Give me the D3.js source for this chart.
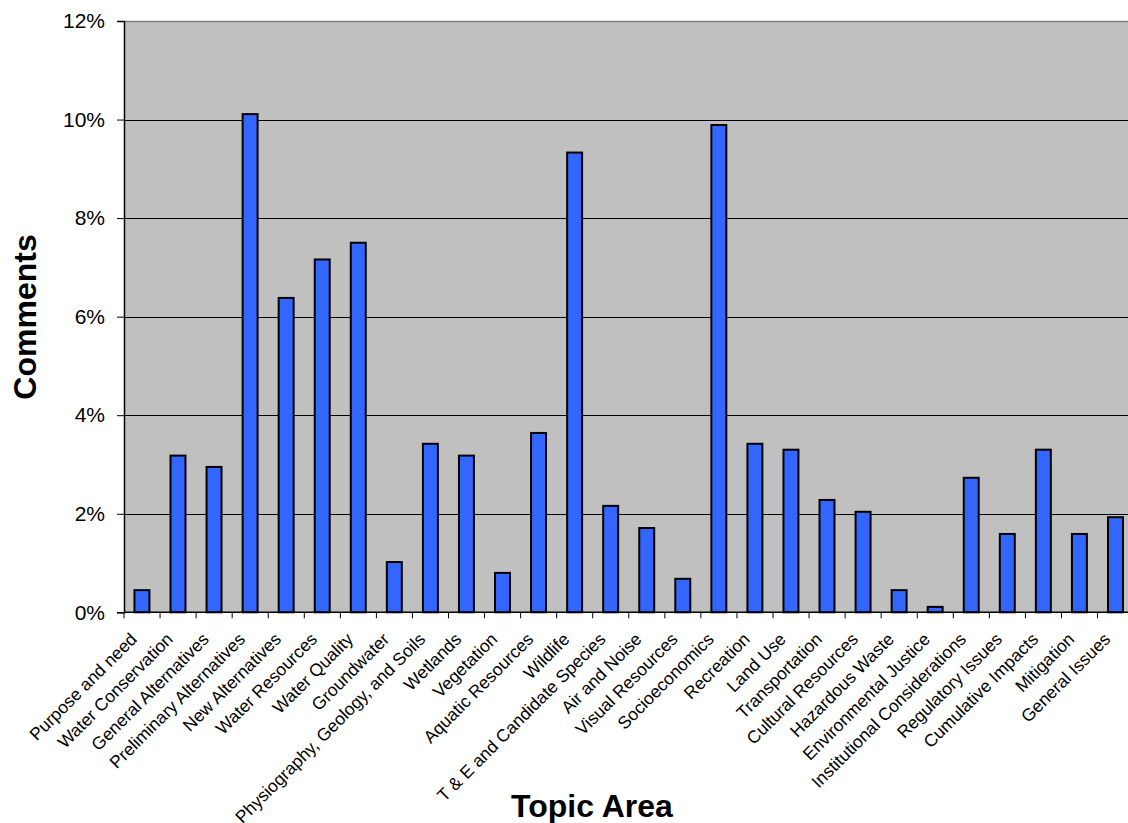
<!DOCTYPE html>
<html>
<head>
<meta charset="utf-8">
<script src="https://cdn.jsdelivr.net/npm/d3@7"></script>
<style>
  body { margin: 0; background: #fff; }
  svg { display: block; font-family: "Liberation Sans", Arial, sans-serif; }
</style>
</head>
<body>
<script>
// topic areas and their share of comments
var topics = [
    "Purpose and need", "Water Conservation", "General Alternatives",
    "Preliminary Alternatives", "New Alternatives", "Water Resources",
    "Water Quality", "Groundwater", "Physiography, Geology, and Soils",
    "Wetlands", "Vegetation", "Aquatic Resources", "Wildlife",
    "T & E and Candidate Species", "Air and Noise", "Visual Resources",
    "Socioeconomics", "Recreation", "Land Use", "Transportation",
    "Cultural Resources", "Hazardous Waste", "Environmental  Justice",
    "Institutional Considerations", "Regulatory Issues", "Cumulative Impacts",
    "Mitigation", "General Issues"
];
var shares = [
    0.0045, 0.0318, 0.0295, 0.1011, 0.0638, 0.0716, 0.0750, 0.0102,
    0.0342, 0.0318, 0.0080, 0.0364, 0.0933, 0.0216, 0.0171, 0.0068,
    0.0989, 0.0342, 0.0330, 0.0228, 0.0204, 0.0045, 0.0011, 0.0273,
    0.0159, 0.0330, 0.0159, 0.0193
];
var yTicks = [0, 0.02, 0.04, 0.06, 0.08, 0.10, 0.12];

var width = 1128,
    height = 823;

var plotLeft = 124, plotTop = 21, plotBottom = 612.3;
var plotW = 28 * 36.05;

var svg = d3.select("body")
    .append("svg")
    .attr("width", width)
    .attr("height", height);

var x = d3.scaleBand()
    .domain(topics)
    .range([plotLeft, plotLeft + plotW])
    .paddingInner(0.585)
    .paddingOuter(0.29);

var y = d3.scaleLinear()
    .domain([0, 0.12])
    .range([plotBottom, plotTop]);

// plot area
svg.append("rect")
    .attr("x", plotLeft)
    .attr("y", plotTop)
    .attr("width", plotW)
    .attr("height", plotBottom - plotTop)
    .attr("fill", "#c0c0c0");

// gridlines
svg.selectAll(".grid")
    .data(yTicks.slice(1, -1))
    .enter()
    .append("line")
    .attr("x1", plotLeft)
    .attr("x2", plotLeft + plotW)
    .attr("y1", function (d) { return Math.round(y(d)) + 0.5; })
    .attr("y2", function (d) { return Math.round(y(d)) + 0.5; })
    .attr("stroke", "#000")
    .attr("stroke-width", 1);

svg.append("line")
    .attr("x1", plotLeft)
    .attr("x2", plotLeft + plotW)
    .attr("y1", plotTop + 0.5)
    .attr("y2", plotTop + 0.5)
    .attr("stroke", "#808080")
    .attr("stroke-width", 1.5);

// bars
svg.selectAll(".bar")
    .data(shares)
    .enter()
    .append("rect")
    .attr("class", "bar")
    .attr("x", function (d, i) { return x(topics[i]); })
    .attr("y", function (d) { return y(d); })
    .attr("width", x.bandwidth())
    .attr("height", function (d) { return plotBottom - y(d); })
    .attr("fill", "#3366ff")
    .attr("stroke", "#000")
    .attr("stroke-width", 2);

// y axis
var yAxis = svg.append("g")
    .attr("transform", "translate(" + plotLeft + ",0)")
    .call(d3.axisLeft(y)
        .tickValues(yTicks)
        .tickFormat(d3.format(".0%"))
        .tickSize(7)
        .tickPadding(12));
yAxis.select(".domain").attr("stroke", "#000").attr("stroke-width", 1.5);
yAxis.selectAll(".tick line").attr("stroke", "#000");
yAxis.selectAll("text")
    .attr("font-size", "21px")
    .attr("fill", "#000")
    .attr("font-family", "Liberation Sans, Arial, sans-serif");

// x axis ticks at band boundaries
var step = x.step();
var edges = d3.range(topics.length + 1);
svg.selectAll(".xtick")
    .data(edges)
    .enter()
    .append("line")
    .attr("x1", function (d) { return plotLeft + d * step; })
    .attr("x2", function (d) { return plotLeft + d * step; })
    .attr("y1", plotBottom)
    .attr("y2", plotBottom + 6)
    .attr("stroke", "#000");

svg.append("line")
    .attr("x1", plotLeft)
    .attr("x2", plotLeft + plotW)
    .attr("y1", plotBottom)
    .attr("y2", plotBottom)
    .attr("stroke", "#000")
    .attr("stroke-width", 1.5);

// rotated category labels
svg.selectAll(".xlabel")
    .data(topics)
    .enter()
    .append("text")
    .attr("transform", function (d) {
        var cx = x(d) + x.bandwidth() / 2 - 4;
        return "translate(" + cx + "," + (plotBottom + 28) + ") rotate(-45)";
    })
    .attr("text-anchor", "end")
    .attr("font-size", "17.5px")
    .attr("fill", "#000")
    .text(function (d) { return d; });

// axis titles
svg.append("text")
    .attr("x", 592)
    .attr("y", 817)
    .attr("text-anchor", "middle")
    .attr("font-size", "32px")
    .attr("font-weight", "bold")
    .text("Topic Area");

svg.append("text")
    .attr("transform", "translate(36,317) rotate(-90)")
    .attr("text-anchor", "middle")
    .attr("font-size", "32px")
    .attr("font-weight", "bold")
    .text("Comments");
</script>
</body>
</html>
